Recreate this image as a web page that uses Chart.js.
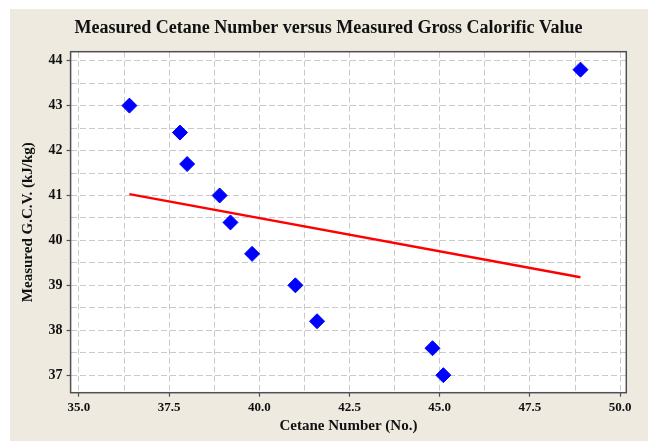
<!DOCTYPE html>
<html>
<head>
<meta charset="utf-8">
<script src="https://cdn.jsdelivr.net/npm/chart.js@4.4.1/dist/chart.umd.min.js"></script>
<style>
  html, body { margin: 0; padding: 0; background: #ffffff; }
  #wrap { width: 648px; height: 441px; position: relative; }
</style>
</head>
<body>
<div id="wrap"><canvas id="c" width="648" height="441"></canvas></div>
<script>
// ---- Data ----
const cetaneNumber = [36.4, 37.8, 38.0, 38.9, 39.2, 39.8, 41.0, 41.6, 44.8, 45.1, 48.9];
const measuredGCV  = [43.0, 42.4, 41.7, 41.0, 40.4, 39.7, 39.0, 38.2, 37.6, 37.0, 43.8];
const fitLineX = [36.4, 48.9];
const fitLineY = [41.03, 39.18];
const chartTitle = 'Measured Cetane Number versus Measured Gross Calorific Value';
const xTitle = 'Cetane Number (No.)';
const yTitle = 'Measured G.C.V. (kJ/kg)';

const pointData = cetaneNumber.map((x, i) => ({ x: x, y: measuredGCV[i] }));
const lineData = fitLineX.map((x, i) => ({ x: x, y: fitLineY[i] }));

const SERIF = '"Liberation Serif", "DejaVu Serif", serif';

const bgPlugin = {
  id: 'bg',
  beforeDraw(chart) {
    const ctx = chart.ctx;
    const a = chart.chartArea;
    ctx.save();
    ctx.fillStyle = '#ffffff';
    ctx.fillRect(0, 0, chart.width, chart.height);
    ctx.fillStyle = '#EEEAE0';
    ctx.fillRect(10, 9, chart.width - 10, chart.height - 9);
    ctx.fillStyle = '#ffffff';
    ctx.fillRect(a.left, a.top, a.right - a.left, a.bottom - a.top);
    ctx.restore();
  },
  beforeDatasetsDraw(chart) {
    const ctx = chart.ctx;
    const a = chart.chartArea;
    ctx.save();
    ctx.strokeStyle = '#505050';
    ctx.lineWidth = 1.5;
    ctx.strokeRect(a.left, a.top, a.right - a.left, a.bottom - a.top);
    ctx.restore();
  }
};

function isMultiple(v, step) {
  const r = v / step;
  return Math.abs(r - Math.round(r)) < 1e-6;
}

new Chart(document.getElementById('c'), {
  type: 'scatter',
  data: {
    datasets: [
      {
        type: 'scatter',
        label: 'Measured',
        data: pointData,
        pointStyle: 'rectRot',
        pointRadius: 7.5,
        pointBackgroundColor: '#0000FF',
        pointBorderColor: '#0000FF',
        pointBorderWidth: 1,
        order: 1
      },
      {
        type: 'line',
        label: 'Fit',
        data: lineData,
        borderColor: '#FF0000',
        borderWidth: 2.5,
        pointRadius: 0,
        fill: false,
        order: 2
      }
    ]
  },
  options: {
    responsive: false,
    animation: false,
    layout: { padding: { left: 30.7, right: 21.7, top: 0, bottom: 0 } },
    plugins: {
      legend: { display: false },
      tooltip: { enabled: false },
      title: {
        display: true,
        text: chartTitle,
        color: '#111111',
        font: { family: SERIF, size: 18, weight: 'bold', lineHeight: 1.2 },
        padding: { top: 17.5, bottom: 12.6 }
      }
    },
    scales: {
      x: {
        type: 'linear',
        min: 34.77,
        max: 50.17,
        afterFit(scale) { scale.height = 48.3; },
        ticks: {
          stepSize: 1.25,
          includeBounds: false,
          autoSkip: false,
          maxRotation: 0,
          padding: 3,
          color: '#111111',
          font: { family: SERIF, size: 13, weight: 'bold' },
          callback: (v) => isMultiple(v, 2.5) ? Number(v).toFixed(1) : ''
        },
        grid: {
          color: '#CACACA',
          lineWidth: 1,
          drawTicks: true,
          tickLength: 4,
          tickWidth: 1.2,
          tickColor: (ctx) => (ctx.tick && isMultiple(ctx.tick.value, 2.5)) ? '#505050' : 'rgba(0,0,0,0)'
        },
        border: { display: false, dash: [6, 3] },
        title: {
          display: true,
          text: xTitle,
          color: '#111111',
          font: { family: SERIF, size: 15, weight: 'bold', lineHeight: 1.2 },
          padding: { top: 0, bottom: 5.8 }
        }
      },
      y: {
        type: 'linear',
        min: 36.61,
        max: 44.2,
        afterFit(scale) { scale.width = 70.6 - 30.7; },
        ticks: {
          stepSize: 0.5,
          includeBounds: false,
          autoSkip: false,
          padding: 4,
          color: '#111111',
          font: { family: SERIF, size: 14, weight: 'bold' },
          callback: (v) => isMultiple(v, 1) ? String(Math.round(v)) : ''
        },
        grid: {
          color: '#CACACA',
          lineWidth: 1,
          drawTicks: true,
          tickLength: 4,
          tickWidth: 1.2,
          tickColor: (ctx) => (ctx.tick && isMultiple(ctx.tick.value, 1)) ? '#505050' : 'rgba(0,0,0,0)'
        },
        border: { display: false, dash: [6, 3] },
        title: {
          display: true,
          text: yTitle,
          color: '#111111',
          font: { family: SERIF, size: 15, weight: 'bold', lineHeight: 1.2 },
          padding: { top: -11.2, bottom: 0 }
        }
      }
    }
  },
  plugins: [bgPlugin]
});
</script>
</body>
</html>
